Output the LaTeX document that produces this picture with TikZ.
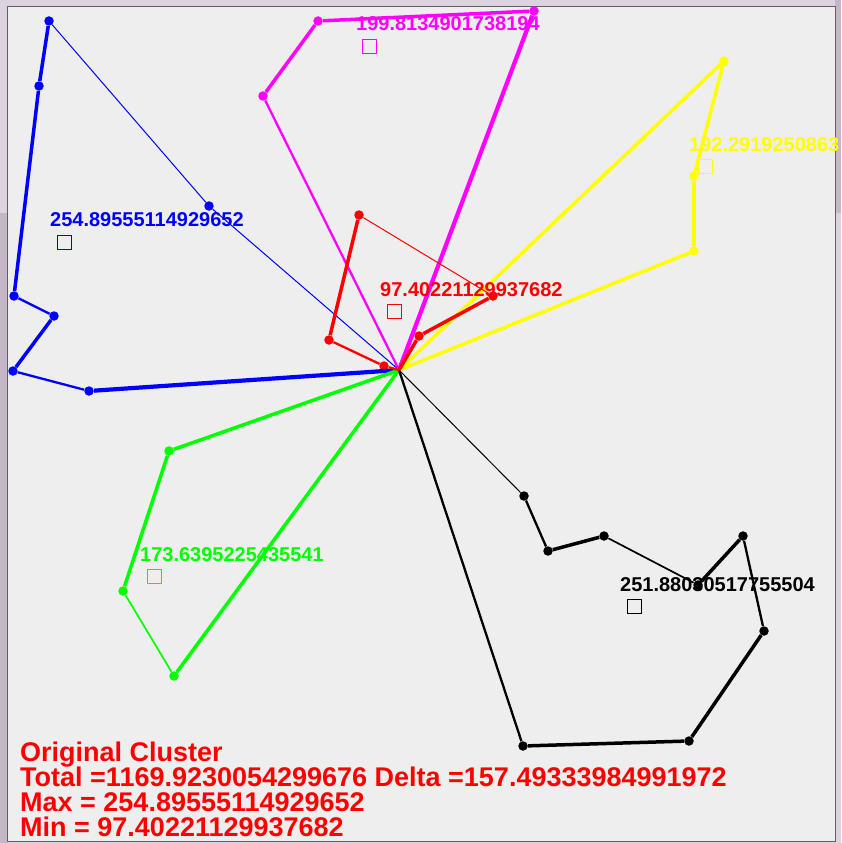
\documentclass[tikz,border=0pt]{standalone}
\usepackage{fontspec}
\setmainfont{Liberation Sans}
\definecolor{panel}{HTML}{EEEEEE}
\definecolor{frame}{HTML}{DCD2E0}
\definecolor{framedk}{HTML}{C6B6CA}
\definecolor{edge}{HTML}{606060}
\definecolor{cblue}{HTML}{0000FF}
\definecolor{cmag}{HTML}{FF00FF}
\definecolor{cyel}{HTML}{FFFF00}
\definecolor{cred}{HTML}{FF0000}
\definecolor{cgreen}{HTML}{00FF00}
\definecolor{cblack}{HTML}{000000}
\tikzset{
  wa/.style={line width=1pt},
  wb/.style={line width=1.7pt},
  wc/.style={line width=2.3pt},
  wd/.style={line width=3.5pt},
  we/.style={line width=4.2pt},
  dotnode/.style={circle, fill=#1, draw=none, inner sep=0pt, minimum size=9.5pt},
  lbl/.style={anchor=base west, inner sep=0pt, text=#1, font=\bfseries\fontsize{20}{24}\selectfont},
  sq/.style={draw=#1, line width=1pt, minimum size=14pt, inner sep=0pt, anchor=north west, fill=none},
  info/.style={anchor=base west, inner sep=0pt, text=cred, font=\bfseries\fontsize{27}{30}\selectfont},
}
\begin{document}
\begin{tikzpicture}[x=1pt, y=-1pt]
\useasboundingbox (0,0) rectangle (841,843);
% window frame
\fill[frame] (0,0) rectangle (841,843);
\fill[framedk] (0,213) rectangle (7,843);
\fill[framedk] (835,0) rectangle (841,213);
\fill[panel, draw=edge, line width=1pt] (7,6.5) rectangle (835,841);

\coordinate (c) at (399,370);
% blue
\node[dotnode=cblue] (b1) at (49,21) {};
\node[dotnode=cblue] (b2) at (39,86) {};
\node[dotnode=cblue] (b3) at (14,296) {};
\node[dotnode=cblue] (b4) at (54,316) {};
\node[dotnode=cblue] (b5) at (13,371) {};
\node[dotnode=cblue] (b6) at (89,391) {};
\node[dotnode=cblue] (b7) at (209,206) {};
% magenta
\node[dotnode=cmag] (m1) at (263,96) {};
\node[dotnode=cmag] (m2) at (318,21) {};
\node[dotnode=cmag] (m3) at (534,11) {};
% yellow
\node[dotnode=cyel] (y1) at (724,61) {};
\node[dotnode=cyel] (y2) at (694,176) {};
\node[dotnode=cyel] (y3) at (694,251) {};
% green
\node[dotnode=cgreen] (g1) at (169,451) {};
\node[dotnode=cgreen] (g2) at (123,591) {};
\node[dotnode=cgreen] (g3) at (174,676) {};
% black
\node[dotnode=cblack] (k1) at (524,496) {};
\node[dotnode=cblack] (k2) at (548,551) {};
\node[dotnode=cblack] (k3) at (604,536) {};
\node[dotnode=cblack] (k4) at (698,585) {};
\node[dotnode=cblack] (k5) at (743,536) {};
\node[dotnode=cblack] (k6) at (764,631) {};
\node[dotnode=cblack] (k7) at (689,741) {};
\node[dotnode=cblack] (k8) at (523,746) {};
% red
\node[dotnode=cred] (r1) at (384,366) {};
\node[dotnode=cred] (r2) at (329,340) {};
\node[dotnode=cred] (r3) at (359,215) {};
\node[dotnode=cred] (r4) at (493,296) {};
\node[dotnode=cred] (r5) at (419,336) {};

% blue edges
\draw[cblue, wd] (b1) -- (b2);
\draw[cblue, wd] (b2) -- (b3);
\draw[cblue, wc] (b3) -- (b4);
\draw[cblue, wd] (b4) -- (b5);
\draw[cblue, wc] (b5) -- (b6);
\draw[cblue, we] (b6) -- (c);
\draw[cblue, wa] (c) -- (b7);
\draw[cblue, wa] (b7) -- (b1);
% magenta edges
\draw[cmag, wc] (c) -- (m1);
\draw[cmag, wd] (m1) -- (m2);
\draw[cmag, wd] (m2) -- (m3);
\draw[cmag, we] (m3) -- (c);
% yellow edges
\draw[cyel, wd] (c) -- (y1);
\draw[cyel, wd] (y1) -- (y2);
\draw[cyel, wd] (y2) -- (y3);
\draw[cyel, wd] (y3) -- (c);
% green edges
\draw[cgreen, wd] (c) -- (g1);
\draw[cgreen, wd] (g1) -- (g2);
\draw[cgreen, wb] (g2) -- (g3);
\draw[cgreen, wd] (g3) -- (c);
% black edges
\draw[cblack, wa] (c) -- (k1);
\draw[cblack, wc] (k1) -- (k2);
\draw[cblack, wd] (k2) -- (k3);
\draw[cblack, wb] (k3) -- (k4);
\draw[cblack, wd] (k4) -- (k5);
\draw[cblack, wc] (k5) -- (k6);
\draw[cblack, wd] (k6) -- (k7);
\draw[cblack, wd] (k7) -- (k8);
\draw[cblack, wc] (k8) -- (c);
% red edges
\draw[cred, wc] (c) -- (r1);
\draw[cred, wc] (r1) -- (r2);
\draw[cred, wd] (r2) -- (r3);
\draw[cred, wa] (r3) -- (r4);
\draw[cred, wd] (r4) -- (r5);
\draw[cred, wd] (r5) -- (c);

% labels and squares
\node[lbl=cblue] (lb) at (50,226) {254.89555114929652};
\node[sq=cblue] (sb) at (57,235) {};
\node[lbl=cmag] (lm) at (356,31) {199.8134901738194};
\node[sq=cmag] (sm) at (362,39) {};
\node[lbl=cyel] (ly) at (689,151) {192.2919250863};
\node[sq=cyel] (sy) at (698,159) {};
\node[lbl=cred] (lr) at (380,296) {97.40221129937682};
\node[sq=cred] (sr) at (387,304) {};
\node[lbl=cgreen] (lg) at (140,561) {173.6395225435541};
\node[sq=cgreen] (sg) at (147,569) {};
\node[lbl=cblack] (lk) at (620,591) {251.88030517755504};
\node[sq=cblack] (sk) at (627,599) {};

% summary text
\node[info] (t1) at (20,761) {Original Cluster};
\node[info] (t2) at (20,786) {Total =1169.9230054299676 Delta =157.49333984991972};
\node[info] (t3) at (20,811) {Max = 254.89555114929652};
\node[info] (t4) at (20,836) {Min = 97.40221129937682};
\end{tikzpicture}
\end{document}
